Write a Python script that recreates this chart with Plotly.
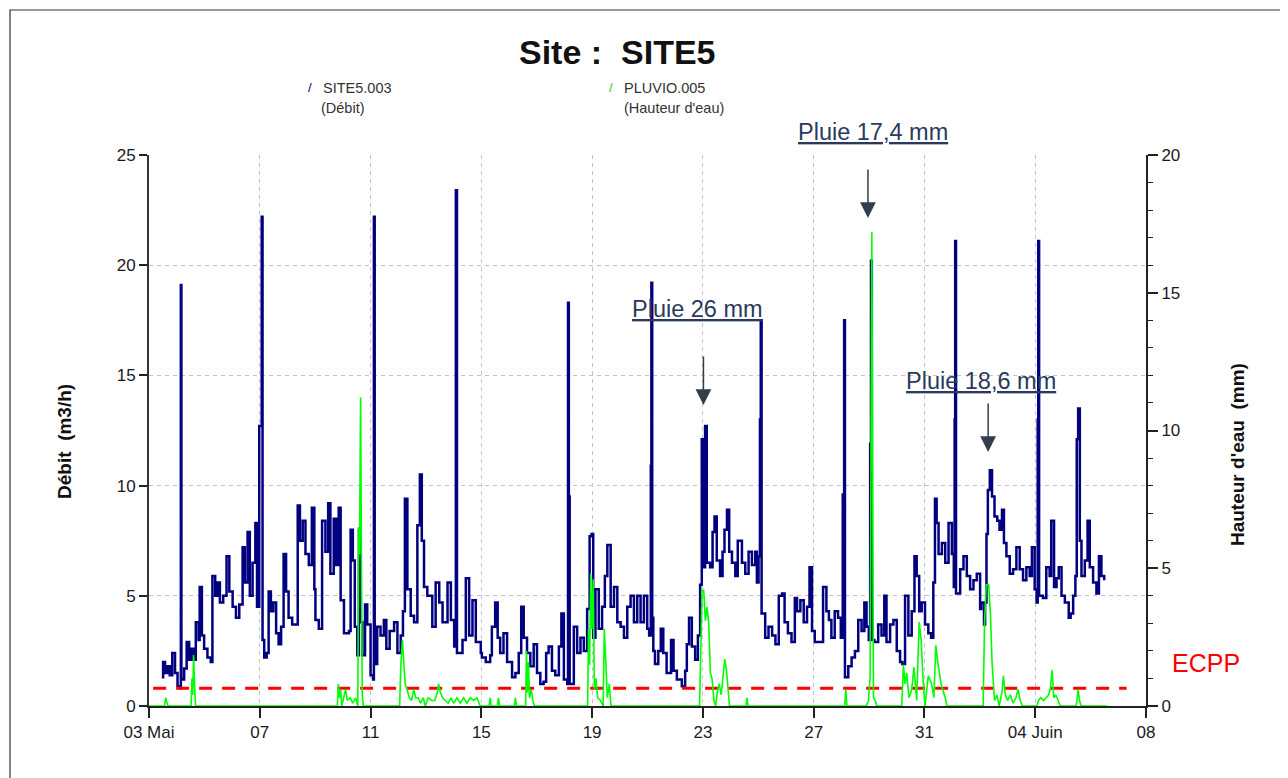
import plotly.graph_objects as go

# ---------------- data ----------------
title_text = "Site :\u00a0 SITE5"
x_tick_days = [0, 4, 8, 12, 16, 20, 24, 28, 32, 36]
x_tick_labels = ["03 Mai", "07", "11", "15", "19", "23", "27", "31", "04 Juin", "08"]
y1_ticks = [0, 5, 10, 15, 20, 25]
y2_ticks = [0, 5, 10, 15, 20]

# Débit SITE5.003 (m3/h) - days since 03 Mai 00:00
debit_day = [
    0.46, 0.51, 0.58, 0.66, 0.75, 0.84, 0.94, 1.03, 1.11, 1.15,
    1.17, 1.27, 1.36, 1.45, 1.54, 1.61, 1.69, 1.79, 1.83, 1.91,
    1.99, 2.11, 2.23, 2.29, 2.39, 2.47, 2.56, 2.68, 2.80, 2.90,
    3.02, 3.14, 3.26, 3.38, 3.46, 3.56, 3.64, 3.74, 3.84, 3.90,
    3.98, 4.07, 4.10, 4.16, 4.25, 4.32, 4.40, 4.49, 4.59, 4.68,
    4.77, 4.86, 4.95, 5.04, 5.17, 5.29, 5.37, 5.45, 5.55, 5.65,
    5.77, 5.88, 5.97, 6.01, 6.13, 6.25, 6.37, 6.47, 6.55, 6.67,
    6.76, 6.85, 6.92, 7.04, 7.22, 7.28, 7.36, 7.43, 7.52, 7.58,
    7.64, 7.70, 7.80, 7.88, 8.00, 8.09, 8.12, 8.15, 8.24, 8.36,
    8.48, 8.57, 8.69, 8.85, 8.97, 9.09, 9.17, 9.24, 9.33, 9.45,
    9.57, 9.69, 9.78, 9.85, 9.93, 10.05, 10.23, 10.35, 10.48, 10.60,
    10.78, 10.90, 11.02, 11.08, 11.12, 11.20, 11.32, 11.44, 11.56, 11.68,
    11.80, 11.98, 12.02, 12.16, 12.32, 12.38, 12.50, 12.59, 12.68, 12.80,
    12.93, 13.11, 13.23, 13.35, 13.44, 13.53, 13.65, 13.77, 13.89, 14.01,
    14.13, 14.25, 14.34, 14.43, 14.55, 14.67, 14.80, 14.89, 14.98, 15.10,
    15.13, 15.16, 15.19, 15.34, 15.46, 15.58, 15.70, 15.82, 15.91, 15.98,
    16.04, 16.12, 16.24, 16.36, 16.46, 16.55, 16.67, 16.79, 16.91, 17.03,
    17.15, 17.27, 17.39, 17.51, 17.63, 17.75, 17.87, 17.99, 18.06, 18.12,
    18.14, 18.17, 18.21, 18.27, 18.39, 18.48, 18.57, 18.69, 18.85, 18.94,
    19.06, 19.24, 19.36, 19.42, 19.50, 19.60, 19.72, 19.82, 19.90, 19.96,
    20.02, 20.08, 20.14, 20.26, 20.35, 20.42, 20.50, 20.62, 20.71, 20.78,
    20.87, 20.95, 21.05, 21.17, 21.26, 21.41, 21.53, 21.65, 21.77, 21.89,
    21.95, 22.01, 22.06, 22.09, 22.12, 22.25, 22.37, 22.50, 22.62, 22.74,
    22.86, 22.95, 23.07, 23.20, 23.32, 23.40, 23.52, 23.64, 23.76, 23.85,
    23.94, 24.04, 24.22, 24.34, 24.46, 24.55, 24.64, 24.76, 24.88, 24.98,
    25.05, 25.10, 25.13, 25.25, 25.37, 25.49, 25.61, 25.73, 25.83, 25.91,
    25.99, 26.04, 26.07, 26.10, 26.19, 26.33, 26.45, 26.55, 26.63, 26.76,
    26.88, 27.00, 27.12, 27.20, 27.30, 27.42, 27.54, 27.64, 27.72, 27.81,
    27.90, 28.02, 28.14, 28.24, 28.32, 28.38, 28.44, 28.51, 28.63, 28.75,
    28.87, 28.99, 29.06, 29.09, 29.11, 29.14, 29.29, 29.41, 29.53, 29.65,
    29.77, 29.89, 30.01, 30.05, 30.15, 30.19, 30.24, 30.29, 30.36, 30.44,
    30.53, 30.63, 30.71, 30.80, 30.87, 30.96, 31.08, 31.20, 31.32, 31.44,
    31.56, 31.68, 31.80, 31.88, 31.98, 32.05, 32.09, 32.11, 32.14, 32.28,
    32.40, 32.52, 32.58, 32.68, 32.77, 32.85, 32.95, 33.07, 33.21, 33.28,
    33.37, 33.45, 33.50, 33.55, 33.61, 33.67, 33.79, 33.89, 33.97, 34.09,
    34.21, 34.30, 34.39, 34.49,
]
debit = [
    1.3, 2.0, 1.5, 1.8, 1.4, 2.4, 1.5, 0.9, 0.8, 19.1,
    1.2, 1.7, 2.9, 2.1, 2.6, 2.1, 3.8, 3.0, 5.4, 3.2,
    2.6, 2.2, 2.0, 5.9, 5.0, 5.6, 4.7, 5.0, 6.8, 5.2,
    4.5, 4.0, 4.6, 7.2, 5.6, 7.9, 5.0, 6.5, 8.3, 4.5,
    12.7, 22.2, 3.0, 2.2, 2.4, 5.2, 4.3, 4.7, 3.3, 2.8,
    3.6, 6.9, 5.2, 4.0, 3.7, 3.7, 9.1, 7.5, 8.4, 6.9,
    6.4, 9.0, 5.3, 3.9, 3.5, 8.4, 7.0, 9.2, 6.0, 8.5,
    6.4, 9.0, 4.8, 3.3, 3.4, 8.0, 6.6, 3.6, 2.3, 8.0,
    3.8, 2.3, 4.6, 3.7, 1.4, 1.2, 22.2, 1.9, 3.6, 3.2,
    3.9, 2.6, 3.4, 3.8, 2.4, 3.2, 4.3, 9.4, 5.3, 4.1,
    3.8, 8.2, 10.5, 7.5, 5.4, 5.0, 3.6, 5.6, 4.7, 3.8,
    5.6, 3.9, 2.7, 23.4, 2.4, 2.4, 3.0, 5.8, 3.2, 4.8,
    2.9, 2.4, 2.2, 2.0, 2.3, 3.6, 4.7, 3.1, 2.4, 3.3,
    2.0, 1.3, 1.5, 2.4, 4.5, 3.1, 2.4, 1.8, 2.8, 1.5,
    1.0, 1.1, 2.4, 2.7, 1.6, 1.4, 2.7, 4.2, 1.2, 1.0,
    18.3, 9.5, 1.0, 3.6, 2.4, 3.1, 2.5, 4.4, 7.7, 7.8,
    3.1, 5.3, 3.5, 4.5, 5.9, 7.3, 4.5, 5.4, 3.8, 3.6,
    3.1, 4.5, 5.0, 3.8, 5.0, 3.8, 5.0, 3.5, 3.2, 10.9,
    19.2, 4.0, 2.5, 1.9, 2.5, 3.5, 2.4, 1.5, 3.0, 1.6,
    1.2, 0.9, 1.6, 2.8, 4.0, 2.7, 2.1, 3.2, 5.5, 12.1,
    6.3, 12.7, 6.5, 6.3, 7.9, 8.6, 6.6, 5.9, 7.0, 8.0,
    8.9, 7.0, 6.5, 5.9, 7.5, 6.5, 6.0, 7.0, 6.4, 7.0,
    5.6, 6.8, 13.0, 17.5, 4.2, 3.1, 3.6, 3.2, 2.8, 5.0,
    5.1, 3.8, 3.3, 2.9, 4.9, 4.3, 4.8, 3.8, 4.5, 6.3,
    3.4, 2.9, 2.9, 5.4, 4.3, 3.9, 3.1, 4.3, 4.0, 3.1,
    9.6, 17.5, 1.3, 1.8, 2.2, 2.5, 3.9, 3.4, 4.7, 3.6,
    3.0, 11.9, 20.2, 3.0, 2.9, 3.7, 3.2, 5.0, 2.9, 3.7,
    3.9, 2.5, 2.0, 1.9, 5.0, 3.2, 4.3, 6.8, 5.9, 4.3,
    4.7, 3.7, 3.3, 3.1, 5.6, 9.4, 8.3, 6.9, 7.4, 6.5,
    8.3, 6.9, 5.4, 13.0, 21.1, 5.1, 6.2, 6.8, 5.9, 5.3,
    5.7, 6.0, 4.4, 4.7, 3.7, 4.7, 7.8, 9.8, 10.7, 9.5,
    8.6, 8.4, 8.0, 8.9, 7.4, 6.8, 6.0, 6.2, 7.2, 6.2,
    5.7, 6.3, 5.9, 7.2, 5.3, 4.7, 13.0, 21.1, 5.0, 4.9,
    6.3, 5.9, 8.4, 5.4, 5.8, 6.3, 5.0, 4.7, 4.0, 4.2,
    5.0, 5.9, 12.1, 13.5, 7.5, 5.9, 6.6, 8.4, 6.3, 5.6,
    5.1, 6.8, 5.9, 5.7,
]

# Hauteur d'eau PLUVIO.005 (mm)
rain_day = [
    0.00, 0.56, 0.60, 0.64, 0.68, 1.52, 1.55, 1.58, 1.61, 1.64,
    1.68, 6.80, 6.84, 6.88, 6.92, 6.96, 7.10, 7.16, 7.26, 7.36,
    7.46, 7.54, 7.57, 7.60, 7.64, 7.67, 7.70, 7.74, 9.05, 9.09,
    9.15, 9.20, 9.25, 9.32, 9.40, 9.48, 9.56, 9.63, 9.72, 9.80,
    9.90, 9.98, 10.08, 10.20, 10.32, 10.41, 10.46, 10.52, 10.60, 10.70,
    10.80, 10.90, 11.00, 11.12, 11.24, 11.36, 11.48, 11.60, 11.72, 11.84,
    11.96, 12.28, 12.32, 12.36, 12.58, 12.62, 12.66, 13.19, 13.23, 13.27,
    13.60, 13.63, 13.66, 13.70, 13.74, 13.80, 13.86, 13.92, 15.84, 15.87,
    15.91, 15.95, 15.99, 16.04, 16.08, 16.14, 16.20, 16.30, 16.40, 16.44,
    16.49, 16.55, 16.62, 16.68, 19.88, 19.91, 19.97, 20.03, 20.09, 20.15,
    20.21, 20.27, 20.33, 20.40, 20.46, 20.52, 20.59, 20.66, 20.74, 20.79,
    20.85, 20.92, 20.96, 21.55, 21.59, 21.63, 25.12, 25.16, 25.20, 25.90,
    25.98, 26.04, 26.08, 26.10, 26.13, 26.16, 26.22, 26.28, 27.18, 27.24,
    27.30, 27.36, 27.44, 27.54, 27.62, 27.72, 27.81, 27.88, 27.96, 28.02,
    28.14, 28.26, 28.34, 28.41, 28.48, 28.60, 28.75, 28.81, 30.12, 30.17,
    30.23, 30.32, 30.39, 30.44, 30.53, 30.62, 30.70, 30.80, 30.85, 30.92,
    31.00, 31.10, 31.20, 31.30, 31.38, 31.46, 31.54, 32.06, 32.12, 32.20,
    32.30, 32.40, 32.48, 32.54, 32.61, 32.67, 32.74, 32.83, 32.90, 33.48,
    33.52, 33.55, 33.60, 33.66, 34.60,
]
rain_mm = [
    0, 0, 0.3, 0.1, 0, 0, 1.0, 0.4, 1.85, 0.9,
    0, 0, 0.8, 0.3, 0.6, 0, 0.6, 0.2, 0.3, 0.1,
    0.3, 0, 6.5, 5.5, 11.2, 5.5, 0.4, 0, 0, 1.4,
    2.4, 1.6, 0.8, 0.6, 0.3, 0.2, 0.6, 0.3, 0.3, 0.1,
    0.3, 0.0, 0.3, 0.2, 0.2, 0.5, 0.8, 0.5, 0.3, 0.2,
    0.1, 0.3, 0.1, 0.3, 0.1, 0.3, 0.1, 0.3, 0.2, 0.3,
    0, 0, 0.3, 0, 0, 0.3, 0, 0, 0.3, 0,
    0, 2.0, 0.5, 1.6, 0.3, 0.6, 0.2, 0, 0, 2.8,
    1.5, 4.8, 2.8, 4.6, 0.6, 1.0, 0.3, 0.2, 0, 2.8,
    1.6, 0.3, 0.8, 0, 0, 2.0, 4.2, 4.2, 3.1, 3.6,
    3.0, 1.2, 1.0, 0.2, 0, 0.5, 0.8, 0.4, 1.2, 1.7,
    1.3, 0.4, 0, 0, 0.3, 0, 0, 0.6, 0, 0,
    0.2, 1.1, 8.6, 17.2, 8.6, 0.3, 0.2, 0, 0, 1.5,
    0.8, 1.2, 0.3, 0.6, 1.4, 0.2, 3.05, 2.4, 0.8, 0,
    1.1, 0.8, 0.3, 2.2, 1.6, 0.8, 0.3, 0, 0, 3.0,
    4.4, 4.4, 3.2, 1.6, 0.2, 0.4, 0, 0.5, 1.1, 0.4,
    0.2, 0.4, 0.1, 0.3, 0.6, 0.2, 0, 0, 0.2, 0.3,
    0.2, 0.3, 0.4, 0.6, 1.3, 0.3, 0.4, 0.2, 0, 0,
    0.3, 0.6, 0.2, 0, 0,
]

ecpp_level = 0.8            # m3/h
ecpp_span = [0.15, 35.3]    # days

rain_notes = ["Pluie 17,4 mm", "Pluie 26 mm", "Pluie 18,6 mm"]
rain_note_day = [25.96, 20.02, 30.30]
rain_note_val = [22.14, 13.66, 11.52]

assert len(debit_day) == len(debit)
assert len(rain_day) == len(rain_mm)

# ---------------- figure ----------------
NAVY = "#000080"
GREEN = "#00ff00"
GRID = "#c4c4c4"
AXIS = "#222222"
FONT = "Liberation Sans, Arial, sans-serif"

fig = go.Figure()
fig.add_trace(go.Scatter(
    x=debit_day, y=debit, mode="lines", name="SITE5.003",
    line=dict(color=NAVY, width=2.5, shape="hv"), yaxis="y"))
fig.add_trace(go.Scatter(
    x=ecpp_span, y=[ecpp_level, ecpp_level], mode="lines", name="ECPP",
    line=dict(color="#ff0000", width=3, dash="13px,10px"), yaxis="y"))
fig.add_trace(go.Scatter(
    x=rain_day, y=rain_mm, mode="lines", name="PLUVIO.005",
    line=dict(color=GREEN, width=1.6), yaxis="y2"))

fig.update_layout(
    width=1280, height=770,
    margin=dict(l=141, r=142, t=147, b=72),
    paper_bgcolor="white", plot_bgcolor="white",
    showlegend=False,
    font=dict(family=FONT, size=17, color="#1a1a1a"),
    xaxis=dict(
        range=[0, 36], tickvals=x_tick_days, ticktext=x_tick_labels,
        ticks="outside", ticklen=10, tickwidth=1.5, tickcolor=AXIS,
        showline=True, linecolor=AXIS, linewidth=2,
        showgrid=True, gridcolor=GRID, griddash="4px,4px", gridwidth=1,
        zeroline=False, tickfont=dict(size=17),
    ),
    yaxis=dict(
        range=[0, 25], tickvals=y1_ticks,
        ticks="outside", ticklen=8, tickwidth=1.5, tickcolor=AXIS,
        showline=True, linecolor="#333333", linewidth=2,
        showgrid=True, gridcolor=GRID, griddash="4px,4px", gridwidth=1,
        zeroline=False, tickfont=dict(size=17),
    ),
    yaxis2=dict(
        range=[0, 20], tickvals=y2_ticks, overlaying="y", side="right",
        ticks="outside", ticklen=10, tickwidth=1.5, tickcolor=AXIS,
        minor=dict(tick0=0, dtick=1, ticks="outside", ticklen=5,
                   tickwidth=1.2, tickcolor=AXIS, showgrid=False),
        showline=True, linecolor=AXIS, linewidth=2,
        showgrid=False, zeroline=False, tickfont=dict(size=17),
    ),
)

ann = []
# title
ann.append(dict(text="<b>" + title_text + "</b>", x=0.4704, y=1.187,
                xref="paper", yref="paper", showarrow=False,
                xanchor="center", yanchor="middle",
                font=dict(family=FONT, size=34, color="#111111")))
# legend
legend_font = dict(family=FONT, size=14.5, color="#333333")
ann += [
    dict(text="/", x=0.1615, y=1.1216, xref="paper", yref="paper", showarrow=False,
         xanchor="center", yanchor="middle", font=dict(family=FONT, size=13, color=NAVY)),
    dict(text="SITE5.003", x=0.1725, y=1.1216, xref="paper", yref="paper", showarrow=False,
         xanchor="left", yanchor="middle", font=legend_font),
    dict(text="(Débit)", x=0.1705, y=1.0853, xref="paper", yref="paper", showarrow=False,
         xanchor="left", yanchor="middle", font=legend_font),
    dict(text="/", x=0.4634, y=1.1216, xref="paper", yref="paper", showarrow=False,
         xanchor="center", yanchor="middle", font=dict(family=FONT, size=13, color="#22cc22")),
    dict(text="PLUVIO.005", x=0.4744, y=1.1216, xref="paper", yref="paper", showarrow=False,
         xanchor="left", yanchor="middle", font=legend_font),
    dict(text="(Hauteur d'eau)", x=0.4744, y=1.0853, xref="paper", yref="paper", showarrow=False,
         xanchor="left", yanchor="middle", font=legend_font),
]
# axis titles
ann += [
    dict(text="<b>Débit  (m3/h)</b>", x=-0.0843, y=0.481, xref="paper", yref="paper",
         showarrow=False, textangle=-90, xanchor="center", yanchor="middle",
         font=dict(family=FONT, size=19, color="#111111")),
    dict(text="<b>Hauteur d'eau  (mm)</b>", x=1.0913, y=0.4555, xref="paper", yref="paper",
         showarrow=False, textangle=-90, xanchor="center", yanchor="middle",
         font=dict(family=FONT, size=19, color="#111111")),
]
# ECPP label
ann.append(dict(text="ECPP", x=1.0241, y=0.078, xref="paper", yref="paper",
                showarrow=False, xanchor="left", yanchor="middle",
                font=dict(family=FONT, size=25, color="#ff0000")))
# rain notes (text)
note_pos = [(0.7262, 1.0417), (0.5497, 0.7205), (0.8345, 0.5898)]
NOTE_COL = "#2b3a5c"
for txt, (px, py) in zip(rain_notes, note_pos):
    ann.append(dict(text="<u>" + txt + "</u>", x=px, y=py, xref="paper", yref="paper",
                    showarrow=False, xanchor="center", yanchor="middle",
                    font=dict(family=FONT, size=23.5, color=NOTE_COL)))
# arrows
for d, v in zip(rain_note_day, rain_note_val):
    ann.append(dict(text="", x=d, y=v, xref="x", yref="y", ax=0, ay=-50,
                    showarrow=True, arrowhead=2, arrowsize=2.1, arrowwidth=1.5,
                    arrowcolor="#333d4d", standoff=0))
fig.update_layout(annotations=ann)

# outer frame
fig.add_shape(type="rect", xref="paper", yref="paper",
              x0=-0.1394, x1=1.16, y0=-0.18, y1=1.2632,
              line=dict(color="#333333", width=1.2), fillcolor="rgba(0,0,0,0)", layer="below")

fig.write_html("out.html")
